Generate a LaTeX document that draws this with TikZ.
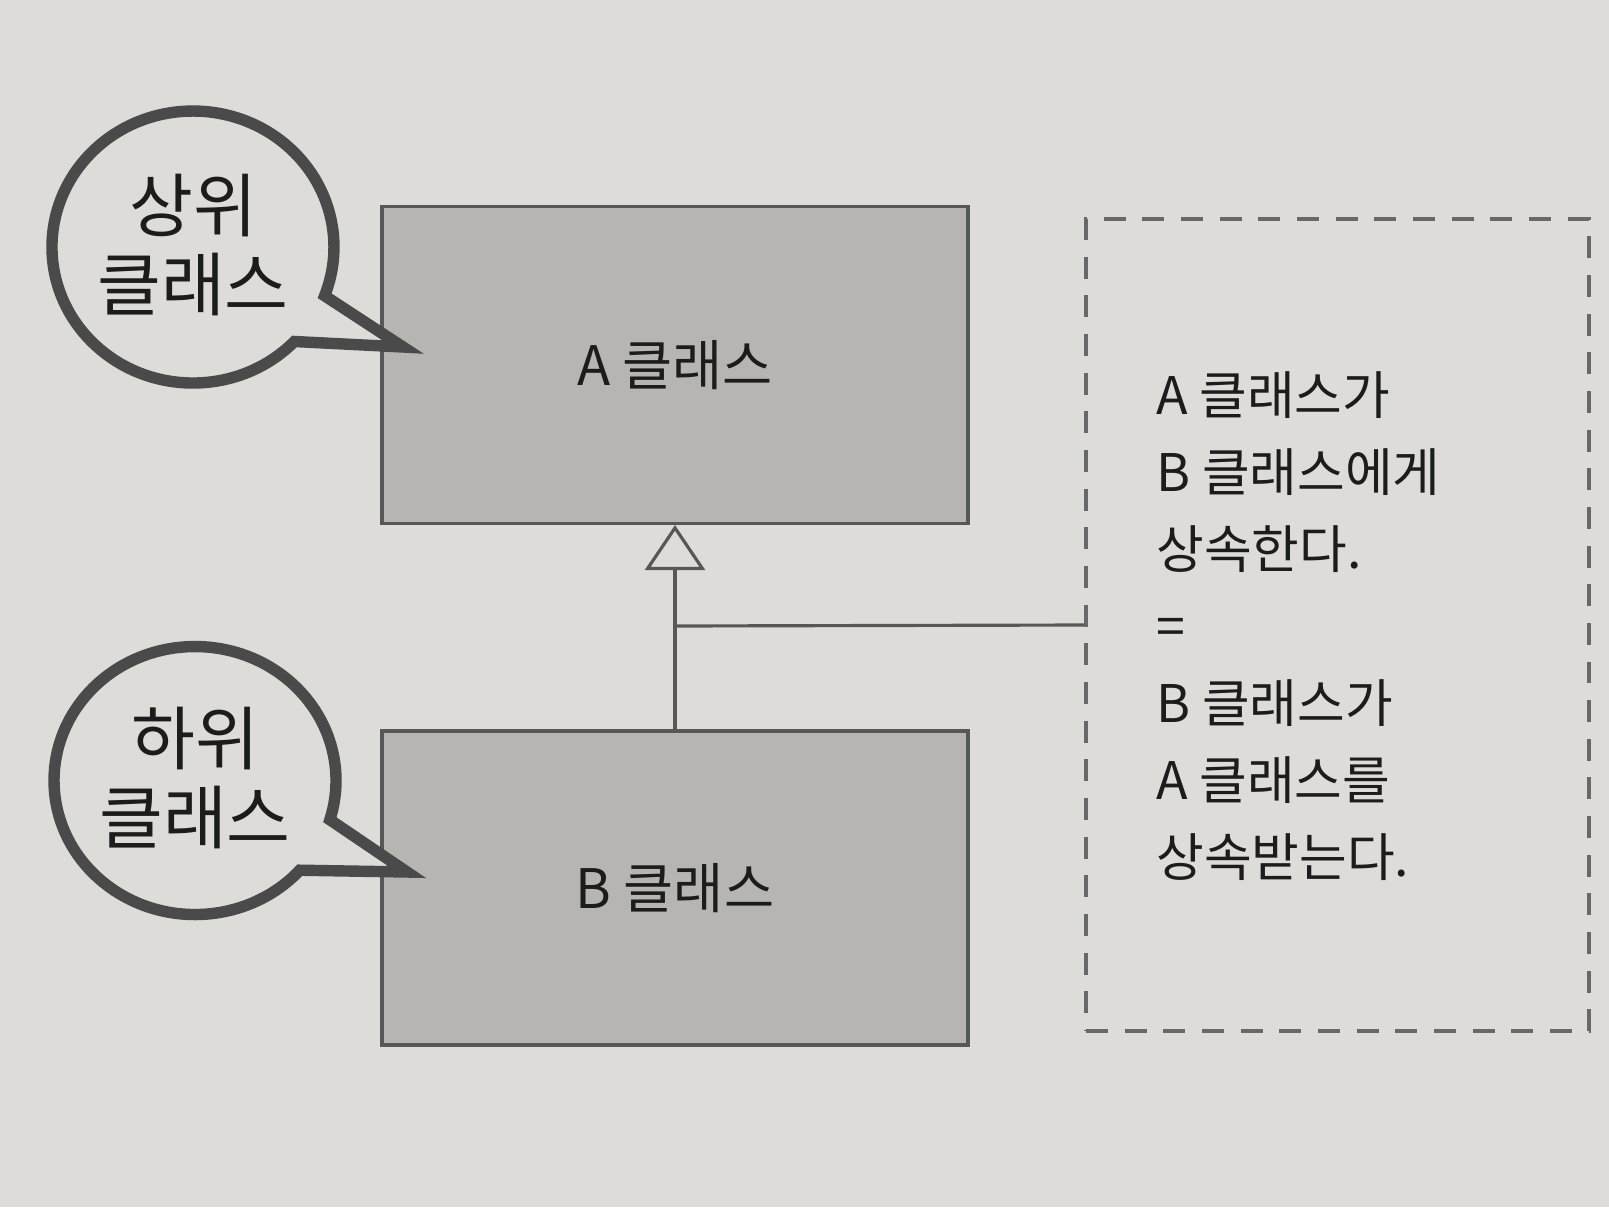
\documentclass[tikz,border=0pt]{standalone}
\usepackage{fontspec}
\setmainfont{Noto Sans CJK KR}
\usetikzlibrary{arrows.meta}
\definecolor{bg}{HTML}{DEDCD8}
\definecolor{boxfill}{HTML}{B6B5B2}
\definecolor{boxline}{HTML}{575757}
\definecolor{calloutline}{HTML}{4A4A4A}
\definecolor{txt}{HTML}{1C1C1C}
\tikzset{
  classbox/.style={draw=boxline, fill=boxfill, line width=1.8pt, minimum width=11.72cm, inner sep=0pt,
    text=txt, font=\fontsize{31}{37}\selectfont},
  callout/.style={draw=calloutline, fill=bg, line width=6.5pt, line join=miter},
  callouttext/.style={text=txt, align=center, inner sep=0pt, font=\fontsize{39.5}{45.5}\selectfont},
  notebox/.style={draw=boxline!90, dash pattern=on 12.5pt off 9.5pt, line width=1.9pt,
    minimum width=10.06cm, minimum height=16.24cm, inner sep=0pt},
  notetext/.style={text=txt, align=left, inner sep=0pt, font=\fontsize{29.5}{43.8}\selectfont},
  link/.style={draw=boxline, line width=1.8pt}
}
\begin{document}
\begin{tikzpicture}[x=0.02cm,y=-0.02cm]
\fill[bg] (0,0) rectangle (1609,1207);
\useasboundingbox (0,0) rectangle (1609,1207);

% class boxes
\node[classbox, minimum height=6.34cm] (A) at (675,365) {A 클래스};
\node[classbox, minimum height=6.28cm] (B) at (675,888) {B 클래스};

% dashed note box
\node[notebox] (D) at (1337.5,625) {};
\node[notetext, anchor=west] (N) at (1156,626) {A 클래스가\\B 클래스에게\\상속한다.\\=\\B 클래스가\\A 클래스를\\상속받는다.};

% inheritance connector
\draw[link, -{Triangle[open, length=0.9cm, width=1.2cm, line width=1.8pt]}] (B.north) -- (A.south);
\coordinate (M) at (675,626);
\draw[link] (M) -- (D.west);

% callouts
\draw[callout] (294.4,341.5) arc[x radius=141, y radius=136, start angle=44, end angle=381] -- (403,347) -- cycle;
\node[callouttext] (C1) at (193,245) {상위\\클래스};

\draw[callout] (299.8,870.2) arc[x radius=141, y radius=134, start angle=42, end angle=377] -- (407,872) -- cycle;
\node[callouttext] (C2) at (195,778) {하위\\클래스};
\end{tikzpicture}
\end{document}
